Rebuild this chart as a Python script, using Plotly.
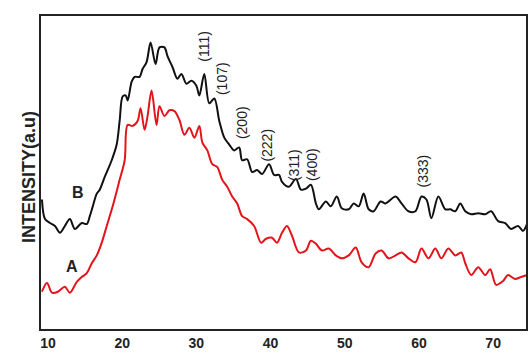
import plotly.graph_objects as go

# Curve B (upper, black): 2theta (deg) and intensity (a.u.)
b_theta = [9.19, 9.60, 10.27, 10.94, 11.61, 12.28, 12.95, 13.62, 14.56, 15.23, 15.64, 16.04,
           16.58, 16.98, 17.65, 18.59, 19.26, 19.66, 20.07, 20.47, 20.74, 21.28, 21.68, 22.35,
           22.75, 23.29, 23.83, 24.50, 25.03, 25.70, 26.11, 26.78, 27.45, 27.99, 28.66, 29.33,
           30.00, 30.40, 31.07, 31.74, 32.42, 33.09, 33.76, 34.43, 35.10, 35.77, 36.17, 36.85,
           37.52, 38.19, 38.86, 39.80, 40.47, 41.14, 41.54, 42.48, 43.42, 44.09, 44.77, 45.44,
           46.11, 46.51, 47.45, 48.12, 48.93, 49.60, 50.54, 51.21, 51.88, 52.55, 53.22, 53.89,
           54.83, 55.50, 56.85, 57.65, 58.59, 59.53, 60.34, 61.01, 61.68, 62.62, 63.56, 64.23,
           64.90, 65.57, 66.24, 67.05, 67.99, 68.93, 69.73, 70.67, 71.61, 72.42, 73.36, 74.03,
           74.56]
b_int = [132, 112, 108, 105, 98, 105, 112, 102, 108, 107, 115, 125,
         138, 142, 155, 172, 188, 212, 237, 238, 233, 252, 257, 257,
         265, 272, 292, 270, 287, 287, 278, 267, 255, 260, 250, 253,
         248, 238, 260, 230, 235, 212, 195, 188, 182, 185, 172, 173,
         160, 162, 158, 168, 157, 157, 150, 145, 153, 142, 143, 147,
         128, 122, 130, 125, 135, 123, 122, 128, 125, 138, 122, 120,
         130, 128, 135, 128, 120, 120, 135, 132, 113, 135, 122, 122,
         120, 128, 120, 117, 118, 117, 120, 110, 108, 102, 105, 100,
         107]

# Curve A (lower, red)
a_theta = [9.19, 9.87, 10.54, 11.34, 12.28, 12.95, 13.89, 14.56, 15.23, 15.91, 16.58, 17.25,
           17.92, 18.72, 19.66, 20.34, 20.74, 21.41, 22.08, 22.48, 23.02, 23.42, 23.96, 24.63,
           25.03, 25.70, 26.38, 27.05, 27.72, 28.39, 29.06, 29.73, 30.40, 30.81, 31.48, 32.15,
           32.82, 33.49, 34.16, 34.83, 35.50, 36.17, 36.85, 37.79, 38.72, 39.40, 40.20, 40.87,
           41.54, 42.21, 42.89, 43.83, 44.77, 45.44, 46.11, 46.91, 47.85, 48.79, 49.60, 50.54,
           51.48, 52.28, 53.22, 54.16, 54.97, 55.91, 56.85, 57.65, 58.59, 59.53, 60.34, 61.28,
           62.21, 63.02, 63.96, 64.90, 65.70, 66.24, 67.05, 67.99, 68.93, 69.60, 70.40, 71.34,
           72.01, 72.95, 73.76, 74.56]
a_int = [38, 47, 37, 38, 43, 37, 48, 53, 57, 67, 75, 88,
         105, 125, 152, 172, 208, 207, 212, 225, 203, 217, 243, 208,
         227, 217, 223, 222, 213, 198, 205, 195, 207, 190, 182, 168,
         165, 152, 145, 135, 128, 115, 112, 105, 88, 92, 93, 88,
         98, 105, 95, 78, 80, 90, 87, 80, 82, 75, 72, 75,
         83, 68, 63, 77, 80, 72, 75, 78, 72, 68, 82, 72,
         82, 72, 82, 75, 78, 67, 55, 63, 55, 61, 45, 49,
         55, 51, 53, 55]

# Peak labels (hkl) and their positions
peak_labels = ["(111)", "(107)", "(200)", "(222)", "(311)", "(400)", "(333)"]
peak_theta = [31.07, 33.49, 36.17, 39.40, 43.15, 45.57, 60.60]
peak_int = [288, 255, 210, 187, 167, 168, 161]

tick_vals = [10, 20, 30, 40, 50, 60, 70]

FONT = "Liberation Sans, Arial, sans-serif"

fig = go.Figure()
fig.add_trace(go.Scatter(x=a_theta, y=a_int, mode="lines",
                         line=dict(color="#e3141b", width=2, shape="spline", smoothing=0.9),
                         showlegend=False))
fig.add_trace(go.Scatter(x=b_theta, y=b_int, mode="lines",
                         line=dict(color="#111111", width=2, shape="spline", smoothing=0.9),
                         showlegend=False))

annotations = []
for t, x, y in zip(peak_labels, peak_theta, peak_int):
    annotations.append(dict(x=x, y=y, xref="x", yref="y", text=t, showarrow=False,
                            textangle=-90, font=dict(family=FONT, size=14, color="#222222")))
annotations.append(dict(x=14.03, y=139, xref="x", yref="y", text="<b>B</b>", showarrow=False,
                        font=dict(family=FONT, size=16, color="#222222")))
annotations.append(dict(x=13.22, y=64, xref="x", yref="y", text="<b>A</b>", showarrow=False,
                        font=dict(family=FONT, size=16, color="#222222")))
annotations.append(dict(x=-0.049, y=0.486, xref="paper", yref="paper",
                        text="<b>INTENSITY(a.u)</b>", showarrow=False, textangle=-90,
                        font=dict(family=FONT, size=18, color="#222222")))

fig.update_layout(
    width=529, height=352,
    margin=dict(l=41, r=1, t=16, b=17),
    paper_bgcolor="white", plot_bgcolor="white",
    annotations=annotations,
    xaxis=dict(range=[9.06, 74.43], tickvals=tick_vals, ticks="", showgrid=False,
               zeroline=False, showline=True, linecolor="#222222", linewidth=2, mirror=True,
               tickfont=dict(family=FONT, size=14, color="#222222", weight="bold")),
    yaxis=dict(range=[0, 319], showticklabels=False, ticks="", showgrid=False,
               zeroline=False, showline=True, linecolor="#222222", linewidth=2, mirror=True),
)

fig.write_html("out.html", config={"displayModeBar": False},
               post_script="document.body.style.margin='0';document.body.style.overflow='hidden';")
